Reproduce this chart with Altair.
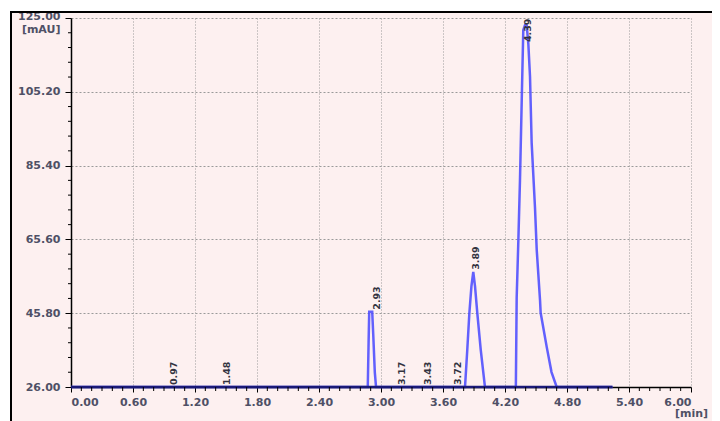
import altair as alt
import pandas as pd

# ---- chromatogram trace ----
time_min = [0.000, 2.872, 2.880, 2.886, 2.915, 2.925, 2.940, 2.952,
            3.813, 3.835, 3.855, 3.875, 3.893, 3.910, 3.932, 3.965, 4.006,
            4.305, 4.313, 4.330, 4.345, 4.362, 4.377, 4.394, 4.410, 4.426,
            4.442, 4.458, 4.490, 4.507, 4.539, 4.545, 4.604, 4.650, 4.700, 5.240]
signal_mau = [26.0, 26.0, 38.0, 46.2, 46.2, 40.0, 30.0, 26.0,
              26.0, 36.0, 45.8, 53.0, 56.9, 53.0, 45.8, 36.0, 26.0,
              26.0, 50.0, 66.0, 81.5, 103.0, 121.8, 123.1, 123.0, 118.0,
              109.3, 91.5, 74.3, 62.8, 49.3, 45.9, 36.7, 30.0, 26.0, 26.0]

# ---- peak annotations ----
peak_rt = [0.97, 1.48, 2.93, 3.17, 3.43, 3.72, 3.89, 4.39]
peak_label = ["0.97", "1.48", "2.93", "3.17", "3.43", "3.72", "3.89", "4.39"]
peak_height = [26.0, 26.0, 46.2, 26.0, 26.0, 26.0, 56.9, 118.0]

# ---- axes ----
x_ticks = [0.0, 0.6, 1.2, 1.8, 2.4, 3.0, 3.6, 4.2, 4.8, 5.4, 6.0]
y_ticks = [26.0, 45.8, 65.6, 85.4, 105.2, 125.0]
x_minor = [round(0.1 * i, 2) for i in range(1, 60) if i % 6]
y_minor = [round(26 + 3.96 * i, 2) for i in range(1, 25) if i % 5]
baseline_end = [5.24]

PINK = "#fdf0f0"
LABEL_COLOR = "#4f5066"
FONT = "DejaVu Sans"

trace = pd.DataFrame({"t": time_min, "v": signal_mau})
peaks = pd.DataFrame({"t": peak_rt, "v": peak_height, "label": peak_label})
xminor_df = pd.DataFrame({"t": x_minor})
yminor_df = pd.DataFrame({"v": y_minor})
base_df = pd.DataFrame({"t": [0.0], "t1": baseline_end, "v": [26.0]})
one = pd.DataFrame({"a": [0]})

x_scale = alt.Scale(domain=[0, 6], nice=False, zero=False)
y_scale = alt.Scale(domain=[26, 125], nice=False, zero=False)

x_axis = alt.Axis(
    values=x_ticks, format=".2f", title="[min]",
    labelFont=FONT, labelFontWeight="bold", labelFontSize=11, labelColor=LABEL_COLOR,
    labelPadding=4, tickSize=5, tickColor="black", domainColor="black", domainWidth=1.5,
    grid=True, gridDash=[1, 2], gridColor="#9a9a9a", gridWidth=1,
    titleFont=FONT, titleFontWeight="bold", titleFontSize=11, titleColor=LABEL_COLOR,
    titleX=620, titleY=26, titleAlign="center", titleBaseline="middle",
)
y_axis = alt.Axis(
    values=y_ticks, format=".2f", title="[mAU]", titleAngle=0,
    labelFont=FONT, labelFontWeight="bold", labelFontSize=11, labelColor=LABEL_COLOR,
    labelOffset={"condition": {"test": "datum.value >= 125", "value": -2}, "value": 0},
    labelPadding=5, tickSize=6, tickColor="black", domainColor="black", domainWidth=1.5,
    grid=True, gridDash=[2, 2], gridColor="#9a9a9a", gridWidth=1,
    titleFont=FONT, titleFontWeight="bold", titleFontSize=11, titleColor=LABEL_COLOR,
    titleX=-11, titleY=11.5, titleAlign="right", titleBaseline="middle",
)

X = lambda f: alt.X(f, scale=x_scale, axis=x_axis)
Y = lambda f: alt.Y(f, scale=y_scale, axis=y_axis)

# white margin strips + black frame (decoration outside the plot)
strip_top = alt.Chart(one).mark_rect(color="white").encode(
    x=alt.value(-70), x2=alt.value(700), y=alt.value(-20), y2=alt.value(-7))
strip_left = alt.Chart(one).mark_rect(color="white").encode(
    x=alt.value(-70), x2=alt.value(-61), y=alt.value(-20), y2=alt.value(460))
frame_top = alt.Chart(one).mark_rule(color="black", strokeWidth=2).encode(
    x=alt.value(-61), x2=alt.value(700), y=alt.value(-6))
frame_left = alt.Chart(one).mark_rule(color="black", strokeWidth=2).encode(
    x=alt.value(-60), y=alt.value(-7), y2=alt.value(460))

line = alt.Chart(trace).mark_line(color="#4646ff", strokeWidth=2.5, opacity=0.85).encode(
    x=X("t:Q"), y=Y("v:Q"),
)

baseline = alt.Chart(base_df).mark_rule(color="#1a1a78", strokeWidth=2.5).encode(
    x=X("t:Q"), x2="t1:Q", y=Y("v:Q"),
)

x_minor_ticks = alt.Chart(xminor_df).mark_rule(color="black", strokeWidth=1).encode(
    x=X("t:Q"), y=alt.value(369), y2=alt.value(373))
y_minor_ticks = alt.Chart(yminor_df).mark_rule(color="black", strokeWidth=1).encode(
    y=Y("v:Q"), x=alt.value(-3), x2=alt.value(0))

labels = alt.Chart(peaks).mark_text(
    angle=270, align="left", baseline="top", dx=2, dy=-2,
    font=FONT, fontWeight="bold", fontSize=9.5, color="#33333f",
).encode(
    x=X("t:Q"), y=Y("v:Q"), text="label:N",
)

chart = alt.layer(
    strip_top, strip_left, frame_top, frame_left,
    line, baseline, x_minor_ticks, y_minor_ticks, labels,
).properties(
    width=620, height=369,
    padding={"left": 63, "top": 10, "right": 21, "bottom": 34},
    autosize=alt.AutoSizeParams(type="none"),
    background=PINK,
).configure_view(stroke=None)

chart.save("out.html", embed_options={"renderer": "svg", "actions": False})
